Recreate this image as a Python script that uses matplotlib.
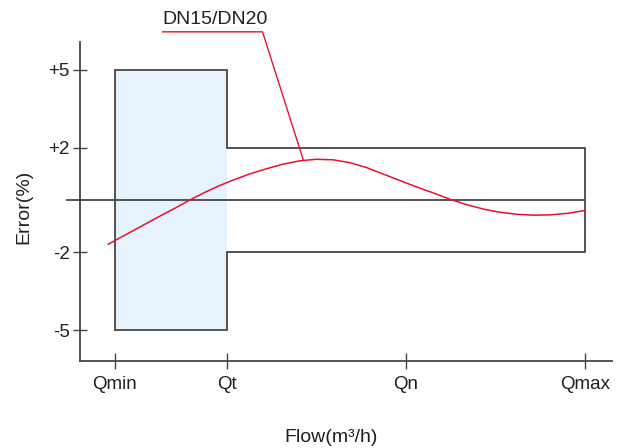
import matplotlib
matplotlib.use("Agg")
import matplotlib.pyplot as plt

plt.rcParams['font.family'] = ['Liberation Sans', 'DejaVu Sans']

# Flow positions on the x axis
flow_labels = ["Qmin", "Qt", "Qn", "Qmax"]
flow_pos = [0.0, 1.0, 2.6, 4.2]

# Error ticks (%)
err_ticks = [5, 2, -2, -5]
err_tick_labels = ["+5", "+2", "-2", "-5"]

# Permissible error envelope: low zone (Qmin..Qt) and high zone (Qt..Qmax)
low_zone_limit = 5
high_zone_limit = 2

# Measured error curve for DN15/DN20
curve_x = [-0.057, 0.10, 0.25, 0.40, 0.55, 0.672, 0.80, 0.92, 1.05, 1.20,
           1.35, 1.50, 1.65, 1.80, 1.95, 2.10, 2.25, 2.40, 2.55, 2.70,
           2.85, 3.01, 3.15, 3.30, 3.45, 3.60, 3.75, 3.90, 4.05, 4.19]
curve_y = [-1.70, -1.33, -0.98, -0.63, -0.29, 0.0, 0.28, 0.52, 0.75, 0.99,
           1.19, 1.37, 1.50, 1.56, 1.54, 1.43, 1.24, 0.99, 0.74, 0.49,
           0.26, 0.0, -0.19, -0.36, -0.48, -0.555, -0.585, -0.57, -0.51, -0.41]
series_name = "DN15/DN20"

gray = "#4a4544"
red = "#e8112d"
blue = "#e6f3fc"
text_color = "#231f20"

fig = plt.figure(figsize=(6.3, 4.48), dpi=100)
ax = fig.add_axes([79.5 / 630, 87 / 448, 532.5 / 630, 319 / 448])
ax.set_xlim(-0.314, 4.44)
ax.set_ylim(-6.18, 6.06)

q_min, q_t, q_n, q_max = flow_pos

# shaded low-flow zone
ax.fill_between([q_min, q_t], -low_zone_limit, low_zone_limit, color=blue, lw=0, zorder=1)

# envelope outline
env_x = [q_min, q_min, q_t, q_t, q_max, q_max, q_t, q_t, q_min]
env_y = [-low_zone_limit, low_zone_limit, low_zone_limit, high_zone_limit, high_zone_limit,
         -high_zone_limit, -high_zone_limit, -low_zone_limit, -low_zone_limit]
ax.plot(env_x, env_y, color=gray, lw=1.3, zorder=2, solid_joinstyle='miter')

# zero-error line
ax.plot([-0.426, q_max], [0, 0], color=gray, lw=1.3, zorder=2, clip_on=False)

# error curve
ax.plot(curve_x, curve_y, color=red, lw=1.1, zorder=3,
        solid_joinstyle='round', antialiased=True)

# leader line and series label
ax.plot([0.429, 1.32, 1.684], [6.45, 6.45, 1.535], color=red, lw=1.0,
        clip_on=False, zorder=3)
ax.text(0.895, 6.75, series_name, ha='center', va='baseline', fontsize=14,
        color=text_color, clip_on=False)

for side in ("top", "right"):
    ax.spines[side].set_visible(False)
for side in ("left", "bottom"):
    ax.spines[side].set_color(gray)
    ax.spines[side].set_linewidth(1.3)

ax.set_xticks(flow_pos)
ax.set_xticklabels(flow_labels)
ax.set_yticks(err_ticks)
ax.set_yticklabels(err_tick_labels)
ax.tick_params(axis='y', direction='inout', length=10, width=1.0, color=gray,
               pad=2, labelsize=13.5, labelcolor=text_color)
ax.tick_params(axis='x', direction='inout', length=12, width=1.0, color=gray,
               pad=5, labelsize=13.5, labelcolor=text_color)

fig.text(331.3 / 630, (448 - 441.7) / 448, "Flow(m³/h)", ha='center', va='baseline',
         fontsize=14, color=text_color)
fig.text(24 / 630, 1 - 207 / 448, "Error(%)", ha='center', va='center',
         rotation=90, fontsize=14, color=text_color)

fig.savefig("out.png", dpi=100)
